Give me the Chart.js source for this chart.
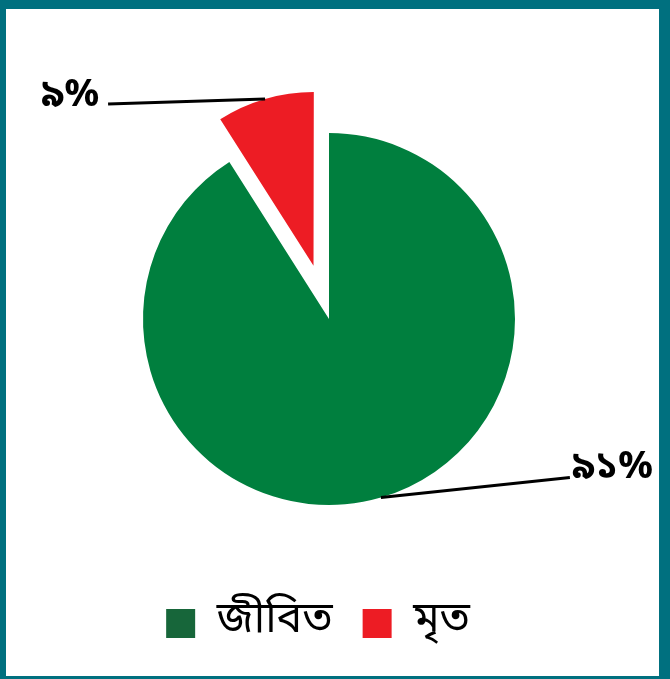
<!DOCTYPE html>
<html>
<head>
<meta charset="utf-8">
<script src="https://cdn.jsdelivr.net/npm/chart.js@4.4.0/dist/chart.umd.min.js"></script>
<style>
  html, body { margin: 0; padding: 0; }
  body { width: 670px; height: 679px; background: #00707F; position: relative; overflow: hidden; }
  .frame { position: absolute; left: 6px; top: 9px; width: 653px; height: 667px; background: #fff; }
</style>
</head>
<body>
<div class="frame"><canvas id="pieChart"></canvas></div>
<script>
// Data
const labels = ['জীবিত', 'মৃত'];
const values = [91, 9];
const sliceColors = ['#007F3E', '#ED1C24'];
const legendColors = ['#17663A', '#ED1C24'];

const bnFont = '"Noto Sans Bengali", "Lohit Bengali", "FreeSerif", "Noto Sans", sans-serif';

function toBengaliDigits(n) {
    const digits = '০১২৩৪৫৬৭৮৯';
    return String(n).replace(/[0-9]/g, d => digits[d]);
}

// the arc element grows an offset slice by offset/4 * fix and narrows it a bit;
// undo that so the pulled-out slice is slightly smaller than the main pie
const leaderLabels = {
    id: 'leaderLabels',
    afterDatasetsUpdate(chart) {
        const arcs = chart.getDatasetMeta(0).data;
        const red = arcs[1];
        const off = (red.options.offset || 0) / 4;
        const fix = 1 - Math.sin(Math.min(Math.PI, red.circumference));
        const grow = off * fix;
        const target = arcs[0].outerRadius * 0.945;
        red.outerRadius = target - grow;
        const widen = (grow / Math.PI) / target / 2;
        red.startAngle -= widen;
        red.endAngle += widen;
        red.circumference = red.endAngle - red.startAngle;
    },
    afterLayout(chart) {
        chart.legend.left -= 11;
        chart.legend.right -= 11;
    },
    afterDatasetsDraw(chart) {
        const ctx = chart.ctx;
        const arcs = chart.getDatasetMeta(0).data;
        // where each line ends, relative to the edge point of the slice
        const ends = [[189, -20], [-157, 5]];
        ctx.save();
        ctx.strokeStyle = '#000';
        ctx.lineWidth = 3;
        ctx.fillStyle = '#000';
        ctx.font = 'bold 38px ' + bnFont;
        ctx.textBaseline = 'alphabetic';
        arcs.forEach((arc, i) => {
            const p = arc.getProps(['x', 'y', 'startAngle', 'endAngle', 'outerRadius', 'circumference']);
            const mid = (p.startAngle + p.endAngle) / 2;
            const off = (arc.options.offset || 0) / 4;
            const fix = 1 - Math.sin(Math.min(Math.PI, p.circumference || 0));
            const r = p.outerRadius + off * (1 + fix);
            const ex = p.x + Math.cos(mid) * r;
            const ey = p.y + Math.sin(mid) * r;
            const tx = ex + ends[i][0];
            const ty = ey + ends[i][1];
            ctx.beginPath();
            ctx.moveTo(ex, ey);
            ctx.lineTo(tx, ty);
            ctx.stroke();
            const text = toBengaliDigits(values[i]) + '%';
            if (ends[i][0] > 0) {
                ctx.textAlign = 'left';
                ctx.fillText(text, tx + 2, ty);
            } else {
                ctx.textAlign = 'right';
                ctx.fillText(text, tx - 9, ty + 2);
            }
        });
        ctx.restore();
    }
};

const ctx = document.getElementById('pieChart').getContext('2d');
const pieChart = new Chart(ctx, {
    type: 'pie',
    data: {
        labels: labels,
        datasets: [{
            data: values,
            backgroundColor: sliceColors,
            borderWidth: 0,
            offset: [0, 222]
        }]
    },
    options: {
        responsive: true,
        maintainAspectRatio: false,
        animation: false,
        radius: 186,
        layout: {
            padding: { top: 57, left: 0, right: 7, bottom: 21 }
        },
        plugins: {
            tooltip: { enabled: false },
            legend: {
                position: 'bottom',
                labels: {
                    boxWidth: 29,
                    boxHeight: 29,
                    padding: 30,
                    color: '#000',
                    font: { size: 43, family: bnFont },
                    generateLabels: chart => labels.map((label, i) => ({
                        text: label,
                        fillStyle: legendColors[i],
                        strokeStyle: legendColors[i],
                        lineWidth: 0,
                        hidden: false,
                        index: i
                    }))
                }
            }
        }
    },
    plugins: [leaderLabels]
});
</script>
</body>
</html>
